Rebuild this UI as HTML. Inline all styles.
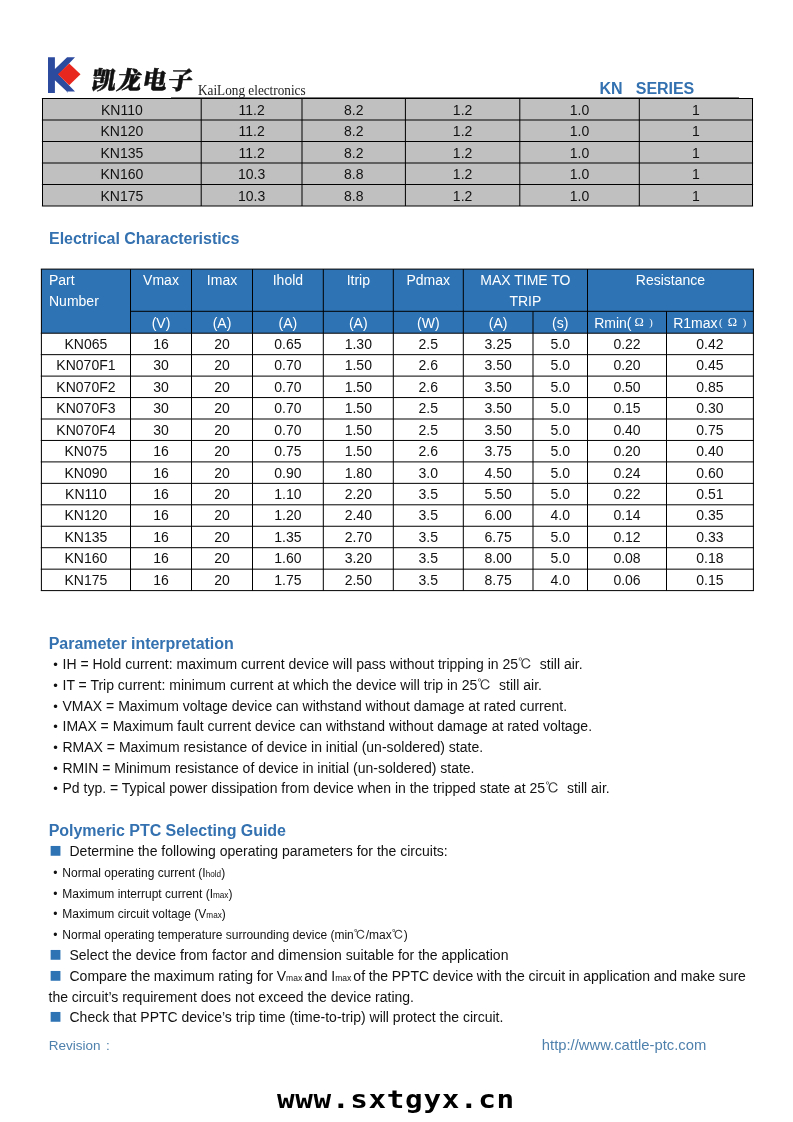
<!DOCTYPE html>
<html lang="en">
<head>
<meta charset="utf-8">
<title>KN Series - KaiLong electronics</title>
<style>
html,body{margin:0;padding:0;background:#fff}
body{width:793px;height:1122px;position:relative;overflow:hidden;font-family:"Liberation Sans","Noto Sans CJK SC",sans-serif;color:#111}
.l{position:absolute}
.t{position:absolute;white-space:nowrap;font-family:"Liberation Sans","Noto Sans CJK SC",sans-serif}
.b{font-weight:bold;letter-spacing:-0.035px}
.serif{font-family:"Liberation Serif","Noto Serif CJK SC",serif;color:#222}
.cn{font-family:"Noto Serif CJK SC","Noto Sans CJK SC",serif;font-weight:900;color:#111;-webkit-text-stroke:0.5px #111}
.deg,.om,.sub,.sub2{line-height:0}
.deg,.om{font-family:"IPAGothic","WenQuanYi Zen Hei","Noto Sans CJK SC",sans-serif;color:#333}
.om{font-size:11px}
.sub{font-size:8.2px}
.sub2{font-size:8.5px}
.dv{font-family:"DejaVu Sans","Liberation Sans",sans-serif}
.wm{font-family:"DejaVu Sans Mono","Liberation Mono",monospace;font-weight:bold;color:#000}
</style>
</head>
<body>
<svg class="l" style="left:0;top:0" width="793" height="1122" viewBox="0 0 793 1122">
<rect x="171.00" y="97.20" width="568.00" height="1" fill="#555"/>
<rect x="42.50" y="98.50" width="710.00" height="107.50" fill="#c0c0c0"/>
<rect x="41.90" y="98.00" width="711.20" height="1.0" fill="#000"/>
<rect x="41.90" y="119.50" width="711.20" height="1.0" fill="#000"/>
<rect x="41.90" y="141.00" width="711.20" height="1.0" fill="#000"/>
<rect x="41.90" y="162.50" width="711.20" height="1.0" fill="#000"/>
<rect x="41.90" y="184.00" width="711.20" height="1.0" fill="#000"/>
<rect x="41.90" y="205.50" width="711.20" height="1.0" fill="#000"/>
<rect x="42.00" y="98.50" width="1.0" height="107.50" fill="#000"/>
<rect x="200.70" y="98.50" width="1.0" height="107.50" fill="#000"/>
<rect x="301.50" y="98.50" width="1.0" height="107.50" fill="#000"/>
<rect x="404.90" y="98.50" width="1.0" height="107.50" fill="#000"/>
<rect x="519.30" y="98.50" width="1.0" height="107.50" fill="#000"/>
<rect x="638.80" y="98.50" width="1.0" height="107.50" fill="#000"/>
<rect x="752.00" y="98.50" width="1.0" height="107.50" fill="#000"/>
<rect x="41.40" y="269.10" width="712.00" height="64.10" fill="#2e74b5"/>
<rect x="40.80" y="268.60" width="713.20" height="1.0" fill="#000"/>
<rect x="130.50" y="310.80" width="622.90" height="1.0" fill="#000"/>
<rect x="40.80" y="332.70" width="713.20" height="1.0" fill="#000"/>
<rect x="40.80" y="354.15" width="713.20" height="1.0" fill="#000"/>
<rect x="40.80" y="375.60" width="713.20" height="1.0" fill="#000"/>
<rect x="40.80" y="397.05" width="713.20" height="1.0" fill="#000"/>
<rect x="40.80" y="418.50" width="713.20" height="1.0" fill="#000"/>
<rect x="40.80" y="439.95" width="713.20" height="1.0" fill="#000"/>
<rect x="40.80" y="461.40" width="713.20" height="1.0" fill="#000"/>
<rect x="40.80" y="482.85" width="713.20" height="1.0" fill="#000"/>
<rect x="40.80" y="504.30" width="713.20" height="1.0" fill="#000"/>
<rect x="40.80" y="525.75" width="713.20" height="1.0" fill="#000"/>
<rect x="40.80" y="547.20" width="713.20" height="1.0" fill="#000"/>
<rect x="40.80" y="568.65" width="713.20" height="1.0" fill="#000"/>
<rect x="40.80" y="590.10" width="713.20" height="1.0" fill="#000"/>
<rect x="40.90" y="269.10" width="1.0" height="321.50" fill="#000"/>
<rect x="130.00" y="269.10" width="1.0" height="321.50" fill="#000"/>
<rect x="191.00" y="269.10" width="1.0" height="321.50" fill="#000"/>
<rect x="252.00" y="269.10" width="1.0" height="321.50" fill="#000"/>
<rect x="322.80" y="269.10" width="1.0" height="321.50" fill="#000"/>
<rect x="392.80" y="269.10" width="1.0" height="321.50" fill="#000"/>
<rect x="462.80" y="269.10" width="1.0" height="321.50" fill="#000"/>
<rect x="532.50" y="311.30" width="1.0" height="279.30" fill="#000"/>
<rect x="587.00" y="269.10" width="1.0" height="321.50" fill="#000"/>
<rect x="666.00" y="311.30" width="1.0" height="279.30" fill="#000"/>
<rect x="752.90" y="269.10" width="1.0" height="321.50" fill="#000"/>
</svg>
<header>
<svg class="l" style="left:44px;top:54px" width="40" height="44" viewBox="44 54 40 44">
<polygon points="48,57.2 54.9,57.2 54.9,69 67.1,57.2 75,57.2 58.5,74.5 75,91.6 67.4,91.6 67.4,93 66.6,91.2 54.9,80.2 54.9,92.9 48,92.9" fill="#2c4a9e"/>
<polygon points="69.2,63.4 80.5,74.3 69.2,85.2 57.9,74.3" fill="#e8281e"/>
</svg>
<div class="t cn" style="left:89.3px;top:59px;font-size:24.5px;line-height:40px;letter-spacing:1px;transform:skewX(-9deg);transform-origin:0 100%">凯龙电子</div>
<div class="t serif" style="left:197.60px;top:79.50px;font-size:15.2px;line-height:20px;transform:scaleX(0.871);transform-origin:0 50%;">KaiLong electronics</div>
<div class="t b" style="left:599.50px;top:78.50px;font-size:16px;line-height:20px;color:#3371b0;">KN&nbsp;&nbsp; SERIES</div>
</header>
<main>
<section>
<div class="t" style="left:42.50px;top:99.50px;font-size:14px;line-height:20px;width:158.70px;text-align:center;">KN110</div>
<div class="t" style="left:201.20px;top:99.50px;font-size:14px;line-height:20px;width:100.80px;text-align:center;">11.2</div>
<div class="t" style="left:302.00px;top:99.50px;font-size:14px;line-height:20px;width:103.40px;text-align:center;">8.2</div>
<div class="t" style="left:405.40px;top:99.50px;font-size:14px;line-height:20px;width:114.40px;text-align:center;">1.2</div>
<div class="t" style="left:519.80px;top:99.50px;font-size:14px;line-height:20px;width:119.50px;text-align:center;">1.0</div>
<div class="t" style="left:639.30px;top:99.50px;font-size:14px;line-height:20px;width:113.20px;text-align:center;">1</div>
<div class="t" style="left:42.50px;top:121.00px;font-size:14px;line-height:20px;width:158.70px;text-align:center;">KN120</div>
<div class="t" style="left:201.20px;top:121.00px;font-size:14px;line-height:20px;width:100.80px;text-align:center;">11.2</div>
<div class="t" style="left:302.00px;top:121.00px;font-size:14px;line-height:20px;width:103.40px;text-align:center;">8.2</div>
<div class="t" style="left:405.40px;top:121.00px;font-size:14px;line-height:20px;width:114.40px;text-align:center;">1.2</div>
<div class="t" style="left:519.80px;top:121.00px;font-size:14px;line-height:20px;width:119.50px;text-align:center;">1.0</div>
<div class="t" style="left:639.30px;top:121.00px;font-size:14px;line-height:20px;width:113.20px;text-align:center;">1</div>
<div class="t" style="left:42.50px;top:142.50px;font-size:14px;line-height:20px;width:158.70px;text-align:center;">KN135</div>
<div class="t" style="left:201.20px;top:142.50px;font-size:14px;line-height:20px;width:100.80px;text-align:center;">11.2</div>
<div class="t" style="left:302.00px;top:142.50px;font-size:14px;line-height:20px;width:103.40px;text-align:center;">8.2</div>
<div class="t" style="left:405.40px;top:142.50px;font-size:14px;line-height:20px;width:114.40px;text-align:center;">1.2</div>
<div class="t" style="left:519.80px;top:142.50px;font-size:14px;line-height:20px;width:119.50px;text-align:center;">1.0</div>
<div class="t" style="left:639.30px;top:142.50px;font-size:14px;line-height:20px;width:113.20px;text-align:center;">1</div>
<div class="t" style="left:42.50px;top:164.00px;font-size:14px;line-height:20px;width:158.70px;text-align:center;">KN160</div>
<div class="t" style="left:201.20px;top:164.00px;font-size:14px;line-height:20px;width:100.80px;text-align:center;">10.3</div>
<div class="t" style="left:302.00px;top:164.00px;font-size:14px;line-height:20px;width:103.40px;text-align:center;">8.8</div>
<div class="t" style="left:405.40px;top:164.00px;font-size:14px;line-height:20px;width:114.40px;text-align:center;">1.2</div>
<div class="t" style="left:519.80px;top:164.00px;font-size:14px;line-height:20px;width:119.50px;text-align:center;">1.0</div>
<div class="t" style="left:639.30px;top:164.00px;font-size:14px;line-height:20px;width:113.20px;text-align:center;">1</div>
<div class="t" style="left:42.50px;top:185.50px;font-size:14px;line-height:20px;width:158.70px;text-align:center;">KN175</div>
<div class="t" style="left:201.20px;top:185.50px;font-size:14px;line-height:20px;width:100.80px;text-align:center;">10.3</div>
<div class="t" style="left:302.00px;top:185.50px;font-size:14px;line-height:20px;width:103.40px;text-align:center;">8.8</div>
<div class="t" style="left:405.40px;top:185.50px;font-size:14px;line-height:20px;width:114.40px;text-align:center;">1.2</div>
<div class="t" style="left:519.80px;top:185.50px;font-size:14px;line-height:20px;width:119.50px;text-align:center;">1.0</div>
<div class="t" style="left:639.30px;top:185.50px;font-size:14px;line-height:20px;width:113.20px;text-align:center;">1</div>
</section>
<section>
<div class="t b" style="left:49.00px;top:229.10px;font-size:16px;line-height:20px;color:#3371b0;">Electrical Characteristics</div>
<div class="t" style="left:49.00px;top:270.20px;font-size:14px;line-height:20px;color:#fff;">Part</div>
<div class="t" style="left:49.00px;top:291.40px;font-size:14px;line-height:20px;color:#fff;">Number</div>
<div class="t" style="left:130.50px;top:270.20px;font-size:14px;line-height:20px;width:61.00px;text-align:center;color:#fff;">Vmax</div>
<div class="t" style="left:191.50px;top:270.20px;font-size:14px;line-height:20px;width:61.00px;text-align:center;color:#fff;">Imax</div>
<div class="t" style="left:252.50px;top:270.20px;font-size:14px;line-height:20px;width:70.80px;text-align:center;color:#fff;">Ihold</div>
<div class="t" style="left:323.30px;top:270.20px;font-size:14px;line-height:20px;width:70.00px;text-align:center;color:#fff;">Itrip</div>
<div class="t" style="left:393.30px;top:270.20px;font-size:14px;line-height:20px;width:70.00px;text-align:center;color:#fff;">Pdmax</div>
<div class="t" style="left:463.30px;top:270.20px;font-size:14px;line-height:20px;width:124.20px;text-align:center;color:#fff;">MAX TIME TO</div>
<div class="t" style="left:463.30px;top:291.20px;font-size:14px;line-height:20px;width:124.20px;text-align:center;color:#fff;">TRIP</div>
<div class="t" style="left:587.50px;top:270.20px;font-size:14px;line-height:20px;width:165.90px;text-align:center;color:#fff;">Resistance</div>
<div class="t" style="left:130.50px;top:312.60px;font-size:14px;line-height:20px;width:61.00px;text-align:center;color:#fff;">(V)</div>
<div class="t" style="left:191.50px;top:312.60px;font-size:14px;line-height:20px;width:61.00px;text-align:center;color:#fff;">(A)</div>
<div class="t" style="left:252.50px;top:312.60px;font-size:14px;line-height:20px;width:70.80px;text-align:center;color:#fff;">(A)</div>
<div class="t" style="left:323.30px;top:312.60px;font-size:14px;line-height:20px;width:70.00px;text-align:center;color:#fff;">(A)</div>
<div class="t" style="left:393.30px;top:312.60px;font-size:14px;line-height:20px;width:70.00px;text-align:center;color:#fff;">(W)</div>
<div class="t" style="left:463.30px;top:312.60px;font-size:14px;line-height:20px;width:69.70px;text-align:center;color:#fff;">(A)</div>
<div class="t" style="left:533.00px;top:312.60px;font-size:14px;line-height:20px;width:54.50px;text-align:center;color:#fff;">(s)</div>
<div class="t" style="left:594.20px;top:312.60px;font-size:14px;line-height:20px;color:#fff;">Rmin(</div>
<div class="t serif" style="left:634.60px;top:312.00px;font-size:12.5px;line-height:20px;color:#fff;">Ω</div>
<div class="t serif" style="left:649.20px;top:312.90px;font-size:10.5px;line-height:20px;color:#fff;">)</div>
<div class="t" style="left:673.20px;top:312.60px;font-size:14px;line-height:20px;color:#fff;">R1max</div>
<div class="t serif" style="left:718.90px;top:312.90px;font-size:10.5px;line-height:20px;color:#fff;">(</div>
<div class="t serif" style="left:727.70px;top:312.00px;font-size:12.5px;line-height:20px;color:#fff;">Ω</div>
<div class="t serif" style="left:742.70px;top:312.90px;font-size:10.5px;line-height:20px;color:#fff;">)</div>
<div class="t" style="left:41.40px;top:334.00px;font-size:14px;line-height:20px;width:89.10px;text-align:center;">KN065</div>
<div class="t" style="left:130.50px;top:334.00px;font-size:14px;line-height:20px;width:61.00px;text-align:center;">16</div>
<div class="t" style="left:191.50px;top:334.00px;font-size:14px;line-height:20px;width:61.00px;text-align:center;">20</div>
<div class="t" style="left:252.50px;top:334.00px;font-size:14px;line-height:20px;width:70.80px;text-align:center;">0.65</div>
<div class="t" style="left:323.30px;top:334.00px;font-size:14px;line-height:20px;width:70.00px;text-align:center;">1.30</div>
<div class="t" style="left:393.30px;top:334.00px;font-size:14px;line-height:20px;width:70.00px;text-align:center;">2.5</div>
<div class="t" style="left:463.30px;top:334.00px;font-size:14px;line-height:20px;width:69.70px;text-align:center;">3.25</div>
<div class="t" style="left:533.00px;top:334.00px;font-size:14px;line-height:20px;width:54.50px;text-align:center;">5.0</div>
<div class="t" style="left:587.50px;top:334.00px;font-size:14px;line-height:20px;width:79.00px;text-align:center;">0.22</div>
<div class="t" style="left:666.50px;top:334.00px;font-size:14px;line-height:20px;width:86.90px;text-align:center;">0.42</div>
<div class="t" style="left:41.40px;top:355.00px;font-size:14px;line-height:20px;width:89.10px;text-align:center;">KN070F1</div>
<div class="t" style="left:130.50px;top:355.00px;font-size:14px;line-height:20px;width:61.00px;text-align:center;">30</div>
<div class="t" style="left:191.50px;top:355.00px;font-size:14px;line-height:20px;width:61.00px;text-align:center;">20</div>
<div class="t" style="left:252.50px;top:355.00px;font-size:14px;line-height:20px;width:70.80px;text-align:center;">0.70</div>
<div class="t" style="left:323.30px;top:355.00px;font-size:14px;line-height:20px;width:70.00px;text-align:center;">1.50</div>
<div class="t" style="left:393.30px;top:355.00px;font-size:14px;line-height:20px;width:70.00px;text-align:center;">2.6</div>
<div class="t" style="left:463.30px;top:355.00px;font-size:14px;line-height:20px;width:69.70px;text-align:center;">3.50</div>
<div class="t" style="left:533.00px;top:355.00px;font-size:14px;line-height:20px;width:54.50px;text-align:center;">5.0</div>
<div class="t" style="left:587.50px;top:355.00px;font-size:14px;line-height:20px;width:79.00px;text-align:center;">0.20</div>
<div class="t" style="left:666.50px;top:355.00px;font-size:14px;line-height:20px;width:86.90px;text-align:center;">0.45</div>
<div class="t" style="left:41.40px;top:377.00px;font-size:14px;line-height:20px;width:89.10px;text-align:center;">KN070F2</div>
<div class="t" style="left:130.50px;top:377.00px;font-size:14px;line-height:20px;width:61.00px;text-align:center;">30</div>
<div class="t" style="left:191.50px;top:377.00px;font-size:14px;line-height:20px;width:61.00px;text-align:center;">20</div>
<div class="t" style="left:252.50px;top:377.00px;font-size:14px;line-height:20px;width:70.80px;text-align:center;">0.70</div>
<div class="t" style="left:323.30px;top:377.00px;font-size:14px;line-height:20px;width:70.00px;text-align:center;">1.50</div>
<div class="t" style="left:393.30px;top:377.00px;font-size:14px;line-height:20px;width:70.00px;text-align:center;">2.6</div>
<div class="t" style="left:463.30px;top:377.00px;font-size:14px;line-height:20px;width:69.70px;text-align:center;">3.50</div>
<div class="t" style="left:533.00px;top:377.00px;font-size:14px;line-height:20px;width:54.50px;text-align:center;">5.0</div>
<div class="t" style="left:587.50px;top:377.00px;font-size:14px;line-height:20px;width:79.00px;text-align:center;">0.50</div>
<div class="t" style="left:666.50px;top:377.00px;font-size:14px;line-height:20px;width:86.90px;text-align:center;">0.85</div>
<div class="t" style="left:41.40px;top:398.00px;font-size:14px;line-height:20px;width:89.10px;text-align:center;">KN070F3</div>
<div class="t" style="left:130.50px;top:398.00px;font-size:14px;line-height:20px;width:61.00px;text-align:center;">30</div>
<div class="t" style="left:191.50px;top:398.00px;font-size:14px;line-height:20px;width:61.00px;text-align:center;">20</div>
<div class="t" style="left:252.50px;top:398.00px;font-size:14px;line-height:20px;width:70.80px;text-align:center;">0.70</div>
<div class="t" style="left:323.30px;top:398.00px;font-size:14px;line-height:20px;width:70.00px;text-align:center;">1.50</div>
<div class="t" style="left:393.30px;top:398.00px;font-size:14px;line-height:20px;width:70.00px;text-align:center;">2.5</div>
<div class="t" style="left:463.30px;top:398.00px;font-size:14px;line-height:20px;width:69.70px;text-align:center;">3.50</div>
<div class="t" style="left:533.00px;top:398.00px;font-size:14px;line-height:20px;width:54.50px;text-align:center;">5.0</div>
<div class="t" style="left:587.50px;top:398.00px;font-size:14px;line-height:20px;width:79.00px;text-align:center;">0.15</div>
<div class="t" style="left:666.50px;top:398.00px;font-size:14px;line-height:20px;width:86.90px;text-align:center;">0.30</div>
<div class="t" style="left:41.40px;top:420.00px;font-size:14px;line-height:20px;width:89.10px;text-align:center;">KN070F4</div>
<div class="t" style="left:130.50px;top:420.00px;font-size:14px;line-height:20px;width:61.00px;text-align:center;">30</div>
<div class="t" style="left:191.50px;top:420.00px;font-size:14px;line-height:20px;width:61.00px;text-align:center;">20</div>
<div class="t" style="left:252.50px;top:420.00px;font-size:14px;line-height:20px;width:70.80px;text-align:center;">0.70</div>
<div class="t" style="left:323.30px;top:420.00px;font-size:14px;line-height:20px;width:70.00px;text-align:center;">1.50</div>
<div class="t" style="left:393.30px;top:420.00px;font-size:14px;line-height:20px;width:70.00px;text-align:center;">2.5</div>
<div class="t" style="left:463.30px;top:420.00px;font-size:14px;line-height:20px;width:69.70px;text-align:center;">3.50</div>
<div class="t" style="left:533.00px;top:420.00px;font-size:14px;line-height:20px;width:54.50px;text-align:center;">5.0</div>
<div class="t" style="left:587.50px;top:420.00px;font-size:14px;line-height:20px;width:79.00px;text-align:center;">0.40</div>
<div class="t" style="left:666.50px;top:420.00px;font-size:14px;line-height:20px;width:86.90px;text-align:center;">0.75</div>
<div class="t" style="left:41.40px;top:441.00px;font-size:14px;line-height:20px;width:89.10px;text-align:center;">KN075</div>
<div class="t" style="left:130.50px;top:441.00px;font-size:14px;line-height:20px;width:61.00px;text-align:center;">16</div>
<div class="t" style="left:191.50px;top:441.00px;font-size:14px;line-height:20px;width:61.00px;text-align:center;">20</div>
<div class="t" style="left:252.50px;top:441.00px;font-size:14px;line-height:20px;width:70.80px;text-align:center;">0.75</div>
<div class="t" style="left:323.30px;top:441.00px;font-size:14px;line-height:20px;width:70.00px;text-align:center;">1.50</div>
<div class="t" style="left:393.30px;top:441.00px;font-size:14px;line-height:20px;width:70.00px;text-align:center;">2.6</div>
<div class="t" style="left:463.30px;top:441.00px;font-size:14px;line-height:20px;width:69.70px;text-align:center;">3.75</div>
<div class="t" style="left:533.00px;top:441.00px;font-size:14px;line-height:20px;width:54.50px;text-align:center;">5.0</div>
<div class="t" style="left:587.50px;top:441.00px;font-size:14px;line-height:20px;width:79.00px;text-align:center;">0.20</div>
<div class="t" style="left:666.50px;top:441.00px;font-size:14px;line-height:20px;width:86.90px;text-align:center;">0.40</div>
<div class="t" style="left:41.40px;top:463.00px;font-size:14px;line-height:20px;width:89.10px;text-align:center;">KN090</div>
<div class="t" style="left:130.50px;top:463.00px;font-size:14px;line-height:20px;width:61.00px;text-align:center;">16</div>
<div class="t" style="left:191.50px;top:463.00px;font-size:14px;line-height:20px;width:61.00px;text-align:center;">20</div>
<div class="t" style="left:252.50px;top:463.00px;font-size:14px;line-height:20px;width:70.80px;text-align:center;">0.90</div>
<div class="t" style="left:323.30px;top:463.00px;font-size:14px;line-height:20px;width:70.00px;text-align:center;">1.80</div>
<div class="t" style="left:393.30px;top:463.00px;font-size:14px;line-height:20px;width:70.00px;text-align:center;">3.0</div>
<div class="t" style="left:463.30px;top:463.00px;font-size:14px;line-height:20px;width:69.70px;text-align:center;">4.50</div>
<div class="t" style="left:533.00px;top:463.00px;font-size:14px;line-height:20px;width:54.50px;text-align:center;">5.0</div>
<div class="t" style="left:587.50px;top:463.00px;font-size:14px;line-height:20px;width:79.00px;text-align:center;">0.24</div>
<div class="t" style="left:666.50px;top:463.00px;font-size:14px;line-height:20px;width:86.90px;text-align:center;">0.60</div>
<div class="t" style="left:41.40px;top:484.00px;font-size:14px;line-height:20px;width:89.10px;text-align:center;">KN110</div>
<div class="t" style="left:130.50px;top:484.00px;font-size:14px;line-height:20px;width:61.00px;text-align:center;">16</div>
<div class="t" style="left:191.50px;top:484.00px;font-size:14px;line-height:20px;width:61.00px;text-align:center;">20</div>
<div class="t" style="left:252.50px;top:484.00px;font-size:14px;line-height:20px;width:70.80px;text-align:center;">1.10</div>
<div class="t" style="left:323.30px;top:484.00px;font-size:14px;line-height:20px;width:70.00px;text-align:center;">2.20</div>
<div class="t" style="left:393.30px;top:484.00px;font-size:14px;line-height:20px;width:70.00px;text-align:center;">3.5</div>
<div class="t" style="left:463.30px;top:484.00px;font-size:14px;line-height:20px;width:69.70px;text-align:center;">5.50</div>
<div class="t" style="left:533.00px;top:484.00px;font-size:14px;line-height:20px;width:54.50px;text-align:center;">5.0</div>
<div class="t" style="left:587.50px;top:484.00px;font-size:14px;line-height:20px;width:79.00px;text-align:center;">0.22</div>
<div class="t" style="left:666.50px;top:484.00px;font-size:14px;line-height:20px;width:86.90px;text-align:center;">0.51</div>
<div class="t" style="left:41.40px;top:505.00px;font-size:14px;line-height:20px;width:89.10px;text-align:center;">KN120</div>
<div class="t" style="left:130.50px;top:505.00px;font-size:14px;line-height:20px;width:61.00px;text-align:center;">16</div>
<div class="t" style="left:191.50px;top:505.00px;font-size:14px;line-height:20px;width:61.00px;text-align:center;">20</div>
<div class="t" style="left:252.50px;top:505.00px;font-size:14px;line-height:20px;width:70.80px;text-align:center;">1.20</div>
<div class="t" style="left:323.30px;top:505.00px;font-size:14px;line-height:20px;width:70.00px;text-align:center;">2.40</div>
<div class="t" style="left:393.30px;top:505.00px;font-size:14px;line-height:20px;width:70.00px;text-align:center;">3.5</div>
<div class="t" style="left:463.30px;top:505.00px;font-size:14px;line-height:20px;width:69.70px;text-align:center;">6.00</div>
<div class="t" style="left:533.00px;top:505.00px;font-size:14px;line-height:20px;width:54.50px;text-align:center;">4.0</div>
<div class="t" style="left:587.50px;top:505.00px;font-size:14px;line-height:20px;width:79.00px;text-align:center;">0.14</div>
<div class="t" style="left:666.50px;top:505.00px;font-size:14px;line-height:20px;width:86.90px;text-align:center;">0.35</div>
<div class="t" style="left:41.40px;top:527.00px;font-size:14px;line-height:20px;width:89.10px;text-align:center;">KN135</div>
<div class="t" style="left:130.50px;top:527.00px;font-size:14px;line-height:20px;width:61.00px;text-align:center;">16</div>
<div class="t" style="left:191.50px;top:527.00px;font-size:14px;line-height:20px;width:61.00px;text-align:center;">20</div>
<div class="t" style="left:252.50px;top:527.00px;font-size:14px;line-height:20px;width:70.80px;text-align:center;">1.35</div>
<div class="t" style="left:323.30px;top:527.00px;font-size:14px;line-height:20px;width:70.00px;text-align:center;">2.70</div>
<div class="t" style="left:393.30px;top:527.00px;font-size:14px;line-height:20px;width:70.00px;text-align:center;">3.5</div>
<div class="t" style="left:463.30px;top:527.00px;font-size:14px;line-height:20px;width:69.70px;text-align:center;">6.75</div>
<div class="t" style="left:533.00px;top:527.00px;font-size:14px;line-height:20px;width:54.50px;text-align:center;">5.0</div>
<div class="t" style="left:587.50px;top:527.00px;font-size:14px;line-height:20px;width:79.00px;text-align:center;">0.12</div>
<div class="t" style="left:666.50px;top:527.00px;font-size:14px;line-height:20px;width:86.90px;text-align:center;">0.33</div>
<div class="t" style="left:41.40px;top:548.00px;font-size:14px;line-height:20px;width:89.10px;text-align:center;">KN160</div>
<div class="t" style="left:130.50px;top:548.00px;font-size:14px;line-height:20px;width:61.00px;text-align:center;">16</div>
<div class="t" style="left:191.50px;top:548.00px;font-size:14px;line-height:20px;width:61.00px;text-align:center;">20</div>
<div class="t" style="left:252.50px;top:548.00px;font-size:14px;line-height:20px;width:70.80px;text-align:center;">1.60</div>
<div class="t" style="left:323.30px;top:548.00px;font-size:14px;line-height:20px;width:70.00px;text-align:center;">3.20</div>
<div class="t" style="left:393.30px;top:548.00px;font-size:14px;line-height:20px;width:70.00px;text-align:center;">3.5</div>
<div class="t" style="left:463.30px;top:548.00px;font-size:14px;line-height:20px;width:69.70px;text-align:center;">8.00</div>
<div class="t" style="left:533.00px;top:548.00px;font-size:14px;line-height:20px;width:54.50px;text-align:center;">5.0</div>
<div class="t" style="left:587.50px;top:548.00px;font-size:14px;line-height:20px;width:79.00px;text-align:center;">0.08</div>
<div class="t" style="left:666.50px;top:548.00px;font-size:14px;line-height:20px;width:86.90px;text-align:center;">0.18</div>
<div class="t" style="left:41.40px;top:570.00px;font-size:14px;line-height:20px;width:89.10px;text-align:center;">KN175</div>
<div class="t" style="left:130.50px;top:570.00px;font-size:14px;line-height:20px;width:61.00px;text-align:center;">16</div>
<div class="t" style="left:191.50px;top:570.00px;font-size:14px;line-height:20px;width:61.00px;text-align:center;">20</div>
<div class="t" style="left:252.50px;top:570.00px;font-size:14px;line-height:20px;width:70.80px;text-align:center;">1.75</div>
<div class="t" style="left:323.30px;top:570.00px;font-size:14px;line-height:20px;width:70.00px;text-align:center;">2.50</div>
<div class="t" style="left:393.30px;top:570.00px;font-size:14px;line-height:20px;width:70.00px;text-align:center;">3.5</div>
<div class="t" style="left:463.30px;top:570.00px;font-size:14px;line-height:20px;width:69.70px;text-align:center;">8.75</div>
<div class="t" style="left:533.00px;top:570.00px;font-size:14px;line-height:20px;width:54.50px;text-align:center;">4.0</div>
<div class="t" style="left:587.50px;top:570.00px;font-size:14px;line-height:20px;width:79.00px;text-align:center;">0.06</div>
<div class="t" style="left:666.50px;top:570.00px;font-size:14px;line-height:20px;width:86.90px;text-align:center;">0.15</div>
</section>
<section>
<div class="t b" style="left:48.70px;top:633.50px;font-size:16px;line-height:20px;color:#3371b0;">Parameter interpretation</div>
<div class="t" style="left:53.20px;top:654.50px;font-size:13px;line-height:20px;">•</div>
<div class="t" style="left:62.50px;top:654.00px;font-size:14px;line-height:20px;">IH = Hold current: maximum current device will pass without tripping in 25<span class="deg">℃</span>&nbsp; still air.</div>
<div class="t" style="left:53.20px;top:675.50px;font-size:13px;line-height:20px;">•</div>
<div class="t" style="left:62.50px;top:675.00px;font-size:14px;line-height:20px;">IT = Trip current: minimum current at which the device will trip in 25<span class="deg">℃</span>&nbsp; still air.</div>
<div class="t" style="left:53.20px;top:696.50px;font-size:13px;line-height:20px;">•</div>
<div class="t" style="left:62.50px;top:696.00px;font-size:14px;line-height:20px;">VMAX = Maximum voltage device can withstand without damage at rated current.</div>
<div class="t" style="left:53.20px;top:716.50px;font-size:13px;line-height:20px;">•</div>
<div class="t" style="left:62.50px;top:716.00px;font-size:14px;line-height:20px;">IMAX = Maximum fault current device can withstand without damage at rated voltage.</div>
<div class="t" style="left:53.20px;top:737.50px;font-size:13px;line-height:20px;">•</div>
<div class="t" style="left:62.50px;top:737.00px;font-size:14px;line-height:20px;">RMAX = Maximum resistance of device in initial (un-soldered) state.</div>
<div class="t" style="left:53.20px;top:758.50px;font-size:13px;line-height:20px;">•</div>
<div class="t" style="left:62.50px;top:758.00px;font-size:14px;line-height:20px;">RMIN = Minimum resistance of device in initial (un-soldered) state.</div>
<div class="t" style="left:53.20px;top:778.50px;font-size:13px;line-height:20px;">•</div>
<div class="t" style="left:62.50px;top:778.00px;font-size:14px;line-height:20px;">Pd typ. = Typical power dissipation from device when in the tripped state at 25<span class="deg">℃</span>&nbsp; still air.</div>
</section>
<section>
<div class="t b" style="left:48.70px;top:821.10px;font-size:16px;line-height:20px;color:#3371b0;">Polymeric PTC Selecting Guide</div>
<div class="t dv" style="left:49.4px;top:839.70px;font-size:12.8px;line-height:19px;color:#2e74b5">■</div>
<div class="t" style="left:69.50px;top:841.30px;font-size:14px;line-height:20px;">Determine the following operating parameters for the circuits:</div>
<div class="t" style="left:53.30px;top:863.00px;font-size:12px;line-height:20px;">•</div>
<div class="t" style="left:62.30px;top:863.00px;font-size:12px;line-height:20px;">Normal operating current (I<span class="sub">hold</span>)</div>
<div class="t" style="left:53.30px;top:884.00px;font-size:12px;line-height:20px;">•</div>
<div class="t" style="left:62.30px;top:884.00px;font-size:12px;line-height:20px;">Maximum interrupt current (I<span class="sub">max</span>)</div>
<div class="t" style="left:53.30px;top:904.00px;font-size:12px;line-height:20px;">•</div>
<div class="t" style="left:62.30px;top:904.00px;font-size:12px;line-height:20px;">Maximum circuit voltage (V<span class="sub">max</span>)</div>
<div class="t" style="left:53.30px;top:925.00px;font-size:12px;line-height:20px;">•</div>
<div class="t" style="left:62.30px;top:925.00px;font-size:12px;line-height:20px;">Normal operating temperature surrounding device (min<span class="deg">℃</span>/max<span class="deg">℃</span>)</div>
<div class="t dv" style="left:49.4px;top:944.40px;font-size:12.8px;line-height:19px;color:#2e74b5">■</div>
<div class="t" style="left:69.50px;top:945.00px;font-size:14px;line-height:20px;">Select the device from factor and dimension suitable for the application</div>
<div class="t dv" style="left:49.4px;top:965.00px;font-size:12.8px;line-height:19px;color:#2e74b5">■</div>
<div class="t" style="left:69.50px;top:965.60px;font-size:14px;line-height:20px;word-spacing:-0.25px;">Compare the maximum rating for V<span class="sub2">max </span>and I<span class="sub2">max </span>of the PPTC device with the circuit in application and make sure</div>
<div class="t" style="left:48.50px;top:986.60px;font-size:14px;line-height:20px;">the circuit’s requirement does not exceed the device rating.</div>
<div class="t dv" style="left:49.4px;top:1005.60px;font-size:12.8px;line-height:19px;color:#2e74b5">■</div>
<div class="t" style="left:69.50px;top:1007.20px;font-size:14px;line-height:20px;">Check that PPTC device’s trip time (time-to-trip) will protect the circuit.</div>
</section>
</main>
<footer>
<div class="t" style="left:48.80px;top:1035.50px;font-size:13.5px;line-height:20px;color:#4f81ad;word-spacing:1.6px;">Revision :</div>
<div class="t" style="left:541.80px;top:1035.00px;font-size:14.8px;line-height:20px;color:#4f81ad;">http://www.cattle-ptc.com</div>
<div class="t wm" style="left:276.5px;top:1083px;font-size:24px;line-height:34px;letter-spacing:0.55px;transform:scaleX(1.22);transform-origin:0 50%">www.sxtgyx.cn</div>
</footer>
</body>
</html>
